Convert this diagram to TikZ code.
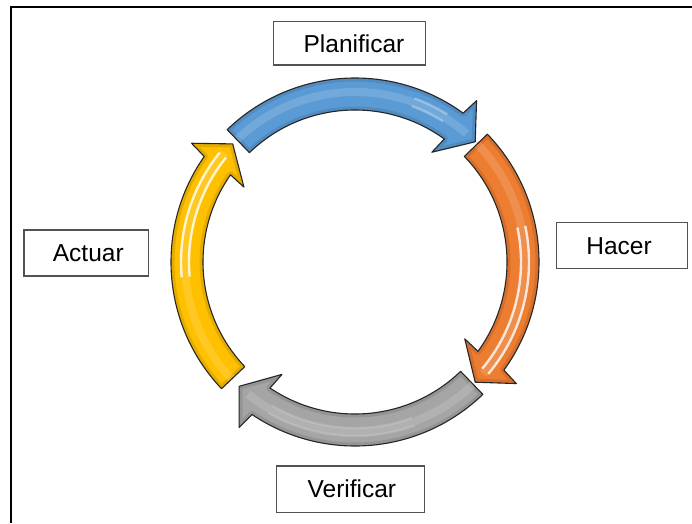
\documentclass[tikz,border=0pt]{standalone}
\usepackage{fontspec}
\setmainfont{Liberation Sans}
\definecolor{pdcablue}{RGB}{91,155,213}
\definecolor{pdcaorange}{RGB}{237,125,49}
\definecolor{pdcagray}{RGB}{165,165,165}
\definecolor{pdcayellow}{RGB}{255,192,0}

% Outline of one curved arrow of the cycle: #1 tail angle, #2 tip angle
\newcommand\cyclepath[2]{(#1:184pt) arc[start angle=#1, end angle=#2+9, radius=184pt]
  -- (#2+8:202pt) -- (#2:170pt) -- (#2+10:134pt) -- (#2+9:152pt)
  arc[start angle=#2+9, end angle=#1, radius=152pt] -- cycle}

% Glossy arrow: #1 colour, #2 tail, #3 tip, #4/#5 angular range of the white streaks, #6 streak opacity
\newcommand\cyclearrow[6]{%
  \fill[#1] \cyclepath{#2}{#3};
  \begin{scope}
    \clip \cyclepath{#2}{#3};
    \draw[#1!75!black, opacity=.4, line width=7pt, line join=round] \cyclepath{#2}{#3};
    \draw[#1!60!white, opacity=.35, line width=8pt] (#2:170pt) arc[start angle=#2, end angle=#3+4, radius=170pt];
    \draw[white, opacity=#6, line width=2.4pt] (#4:166pt) arc[start angle=#4, end angle=#5, radius=166pt];
    \draw[white, opacity=#6, line width=2.4pt] (#4:174pt) arc[start angle=#4, end angle=#5, radius=174pt];
  \end{scope}
  \draw[black!85, line width=1.1pt, line join=round] \cyclepath{#2}{#3};
}

\begin{document}
\begin{tikzpicture}[x=1pt, y=1pt,
  labelbox/.style={draw=black!68, line width=1.3pt, fill=white, inner sep=0pt,
    font=\fontsize{24.5}{29}\selectfont},
  frameline/.style={line width=2pt, black}]
\useasboundingbox (0,0) rectangle (692,523);
\fill[white] (0,0) rectangle (692,523);
\draw[frameline] (10.7,0) -- (10.7,516.3) -- (692,516.3);

% the four stage labels
\node[labelbox, minimum width=151.8pt, minimum height=43.3pt] (plan) at (349.5,479.7) {\hspace*{9pt}Planificar};
\node[labelbox, minimum width=131.1pt, minimum height=46pt] (do) at (622,277.3) {Hacer\hspace*{6pt}};
\node[labelbox, minimum width=124.9pt, minimum height=46pt] (act) at (86.3,270) {\hspace*{4pt}Actuar};
\node[labelbox, minimum width=148.2pt, minimum height=46.3pt] (check) at (350.4,33.8) {\hspace*{3pt}Verificar};

% the cycle of arrows around the centre
\begin{scope}[shift={(355pt,261pt)}]
  \cyclearrow{pdcablue}{134}{45}{70}{58}{0.3}
  \cyclearrow{pdcaorange}{44}{-45}{12}{-40}{0.8}
  \cyclearrow{pdcagray}{-46}{-133}{-70}{-120}{0.15}
  \cyclearrow{pdcayellow}{223.5}{136}{185}{141}{0.8}
\end{scope}
\end{tikzpicture}
\end{document}
